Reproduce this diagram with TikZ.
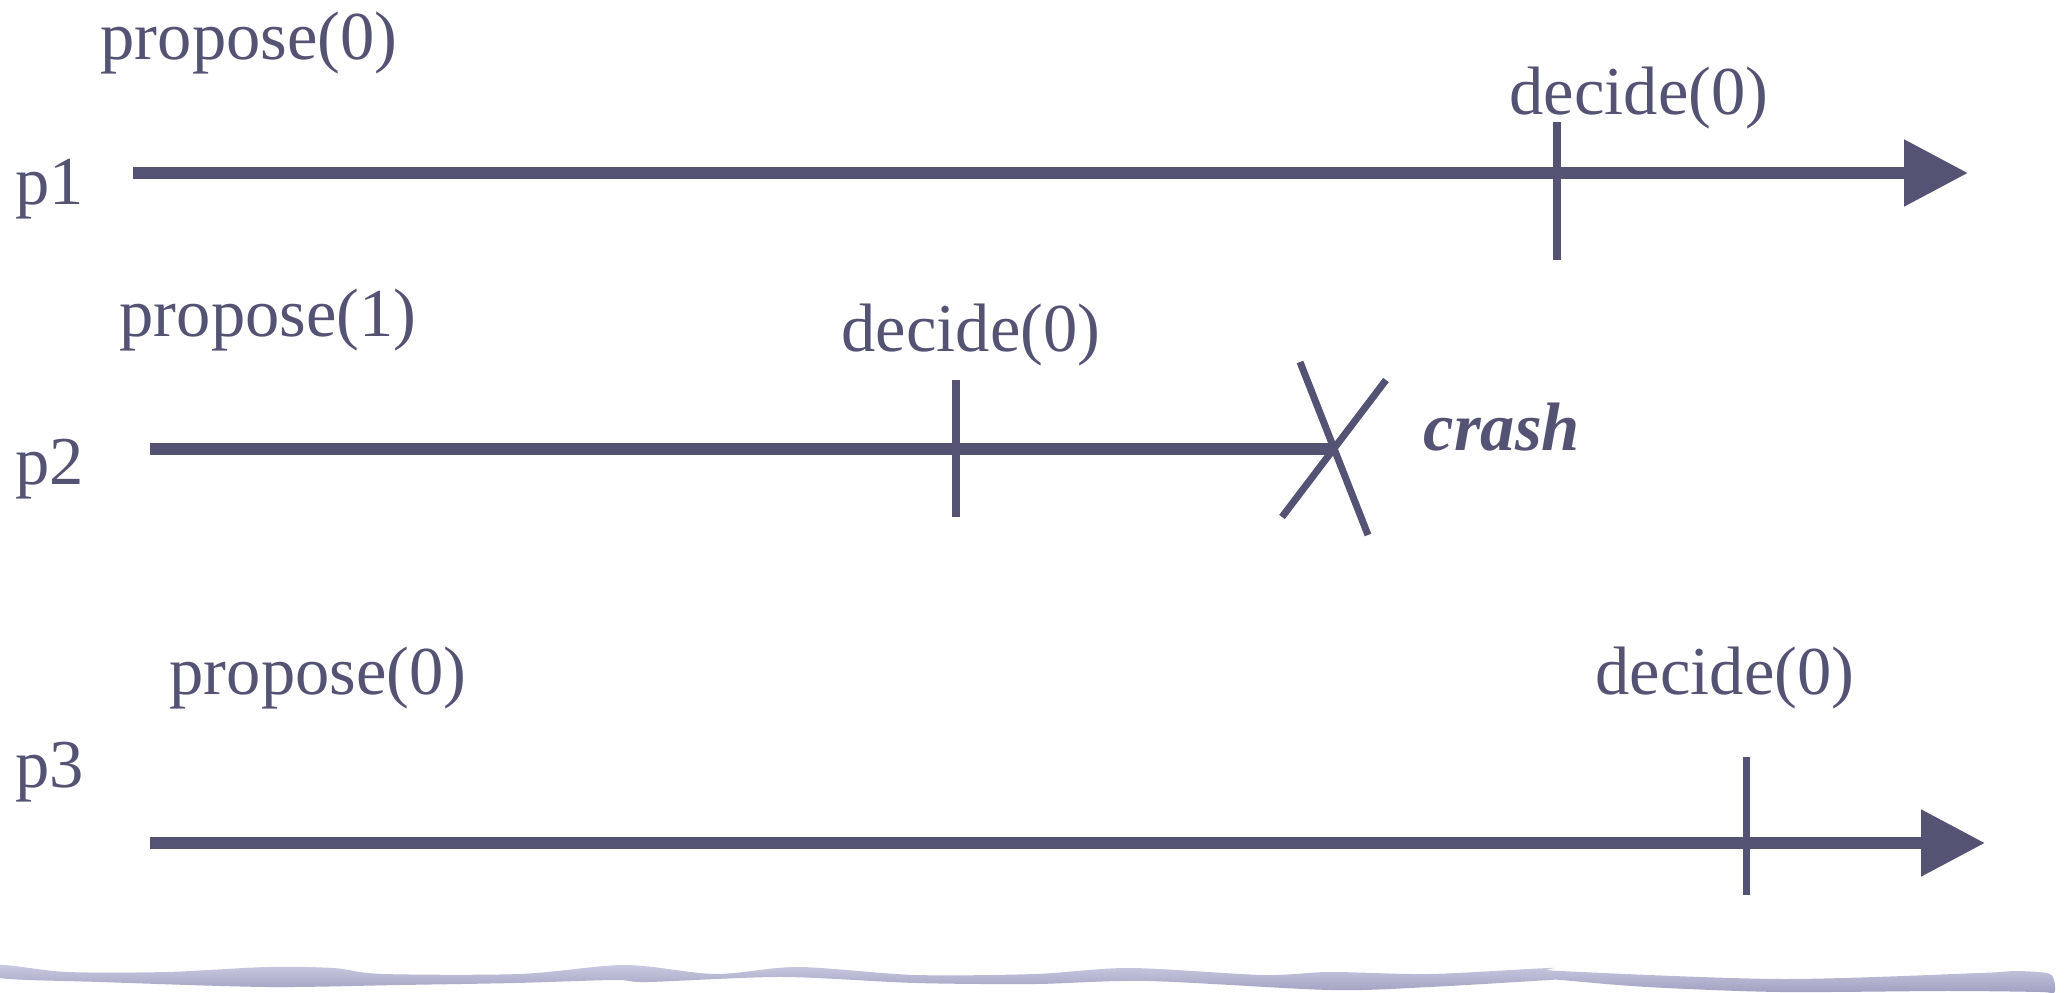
\documentclass[tikz,border=0pt]{standalone}
\usepackage{fontspec}
\setmainfont{Liberation Serif}
\usetikzlibrary{arrows.meta}
\definecolor{lijn}{RGB}{85,83,115}
\definecolor{golfboven}{RGB}{202,202,226}
\definecolor{golfonder}{RGB}{158,157,190}

\begin{document}
\begin{tikzpicture}[x=0.1mm, y=-0.1mm, >={Triangle[length=6.4mm, width=6.4mm]},
  proc/.style={line width=3.4pt, color=lijn},
  tick/.style={line width=2pt, color=lijn},
  lbl/.style={anchor=base west, inner sep=0pt, text=lijn,
    font=\fontsize{19.5}{23}\selectfont}]

  \useasboundingbox (0,0) rectangle (2067,993);

  % Processen
  \node[lbl] (p1) at (15,205) {p1};
  \node[lbl] (p2) at (15,485) {p2};
  \node[lbl] (p3) at (15,788) {p3};

  % Tijdlijnen
  \coordinate (p1s) at (133,173);
  \coordinate (p1e) at (1968,173);
  \coordinate (p2s) at (150,449);
  \coordinate (p2c) at (1333,449);
  \coordinate (p3s) at (150,843);
  \coordinate (p3e) at (1985,843);

  \draw[proc, ->] (p1s) -- (p1e);
  \draw[proc] (p2s) -- (p2c);
  \draw[proc, ->] (p3s) -- (p3e);

  % Voorstellen
  \node[lbl] (prop1) at (100,60) {propose(0)};
  \node[lbl] (prop2) at (119,337) {propose(1)};
  \node[lbl] (prop3) at (169,695) {propose(0)};

  % Beslissingen
  \coordinate (d1a) at (1557,122);
  \coordinate (d1b) at (1557,260);
  \coordinate (d2a) at (956,380);
  \coordinate (d2b) at (956,517);
  \coordinate (d3a) at (1746,757);
  \coordinate (d3b) at (1746,895);

  \draw[tick] (d1a) -- (d1b);
  \draw[tick] (d2a) -- (d2b);
  \draw[tick] (d3a) -- (d3b);

  \node[lbl] (dec1) at (1509,115) {decide(0)};
  \node[lbl] (dec2) at (841,352) {decide(0)};
  \node[lbl] (dec3) at (1595,695) {decide(0)};

  % Crash
  \coordinate (x1a) at (1300,362);
  \coordinate (x1b) at (1368,535);
  \coordinate (x2a) at (1386,380);
  \coordinate (x2b) at (1282,517);

  \draw[tick] (x1a) -- (x1b);
  \draw[tick] (x2a) -- (x2b);

  \node[lbl, font=\fontsize{19.5}{23}\selectfont\bfseries\itshape] (crash) at (1423,451) {crash};

  % Golfrand
  \shade[top color=golfboven, bottom color=golfonder]
    plot[smooth cycle, tension=0.5] coordinates {
      (0,965) (67,972) (167,972) (267,967) (333,968) (383,974) (520,974)
      (625,965) (715,974) (798,967) (915,975) (1035,974) (1130,968)
      (1263,975) (1330,972) (1430,974) (1550,968) (1560,971) (1780,979)
      (1980,973) (2013,971) (2047,973) (2054,980)
      (2054,993) (2040,992) (1947,991) (1780,992) (1647,987) (1560,980)
      (1550,980) (1430,987) (1330,990) (1147,981) (1035,984) (915,983)
      (782,977) (648,982) (615,980) (515,983) (400,985) (267,987)
      (100,982) (0,978)};

\end{tikzpicture}
\end{document}
